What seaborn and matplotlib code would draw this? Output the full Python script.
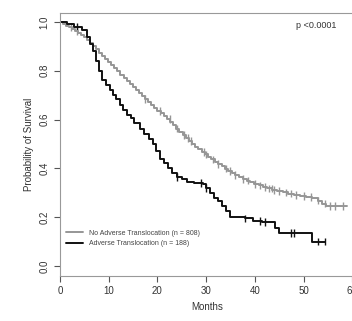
import numpy as np
import pandas as pd
import matplotlib
matplotlib.use("Agg")
import matplotlib.pyplot as plt
import seaborn as sns

# Kaplan-Meier steps (months, survival)
no_adv_t = [0, 0.6, 1.2, 1.9, 2.5, 3.1, 3.8, 4.4, 5.0, 5.6, 6.2, 6.8, 7.4, 8.0, 8.7,
            9.3, 9.9, 10.5, 11.2, 11.8, 12.4, 13.1, 13.7, 14.3, 15.0, 15.6, 16.2, 16.9,
            17.5, 18.1, 18.8, 19.4, 20.0, 20.7, 21.3, 22.0, 22.6, 23.2, 23.9, 24.5,
            25.2, 25.8, 26.5, 27.1, 27.8, 28.4, 29.1, 29.8, 30.4, 31.1, 31.8, 32.5,
            33.2, 33.9, 34.6, 35.3, 36.0, 36.8, 37.5, 38.3, 39.1, 39.9, 40.8, 41.7,
            42.6, 43.6, 44.6, 45.7, 46.8, 48.0, 49.3, 50.6, 51.8, 52.9, 53.8, 54.6, 59]
no_adv_s = [1.0, 0.993, 0.985, 0.978, 0.97, 0.963, 0.955, 0.946, 0.937, 0.926, 0.914,
            0.901, 0.888, 0.874, 0.861, 0.849, 0.836, 0.823, 0.81, 0.797, 0.784, 0.772,
            0.759, 0.747, 0.734, 0.721, 0.709, 0.696, 0.684, 0.671, 0.659, 0.647, 0.636,
            0.625, 0.614, 0.602, 0.589, 0.576, 0.563, 0.55, 0.537, 0.524, 0.512, 0.5,
            0.489, 0.478, 0.467, 0.457, 0.447, 0.437, 0.427, 0.417, 0.408, 0.399, 0.39,
            0.381, 0.373, 0.365, 0.357, 0.35, 0.343, 0.336, 0.33, 0.324, 0.318, 0.312,
            0.307, 0.302, 0.297, 0.292, 0.287, 0.282, 0.277, 0.268, 0.256, 0.245, 0.245]

adv_t = [0, 1.5, 3, 4.5, 5.5, 6.2, 6.8, 7.4, 8.0, 8.6, 9.5, 10.3, 11, 11.6, 12.3, 13,
         13.7, 14.5, 15.3, 16.4, 17.3, 18.2, 19.2, 19.8, 20.5, 21.3, 22.1, 23, 24, 25,
         26, 27.5, 29.3, 30, 30.8, 31.6, 32.5, 33.3, 34, 34.9, 38, 39.7, 41.5, 44.2,
         44.9, 51.7, 54.5]
adv_s = [1.0, 0.99, 0.98, 0.965, 0.94, 0.91, 0.88, 0.84, 0.80, 0.76, 0.74, 0.72, 0.70,
         0.685, 0.66, 0.64, 0.62, 0.605, 0.585, 0.56, 0.54, 0.52, 0.50, 0.47, 0.44, 0.42,
         0.40, 0.38, 0.365, 0.355, 0.345, 0.34, 0.335, 0.32, 0.30, 0.28, 0.265, 0.245,
         0.225, 0.20, 0.195, 0.185, 0.18, 0.155, 0.135, 0.10, 0.10]

# censoring marks
no_adv_cens = [2.2, 3.5, 17.5, 20.5, 22.5, 24, 25.5, 26.2, 27, 29.5, 30, 31.5, 32.5,
               34, 35, 36, 37.5, 38.5, 40, 41, 42, 43, 43.5, 44, 45, 46.5, 47.5, 48.5,
               50, 51.5, 53, 54.5, 55.5, 56.5, 58]
adv_cens = [3.5, 24, 29, 30, 38, 41, 42, 47.5, 48, 53, 54.5]

labels = ["No Adverse Translocation (n = 808)", "Adverse Translocation (n = 188)"]
colors = ["#969696", "#111111"]


def step_value(t, s, x):
    i = np.searchsorted(t, x, side="right") - 1
    return np.asarray(s)[i]


df = pd.concat([
    pd.DataFrame({"t": no_adv_t, "s": no_adv_s, "grp": labels[0]}),
    pd.DataFrame({"t": adv_t, "s": adv_s, "grp": labels[1]}),
])
cens = pd.concat([
    pd.DataFrame({"t": no_adv_cens, "s": step_value(no_adv_t, no_adv_s, no_adv_cens), "grp": labels[0]}),
    pd.DataFrame({"t": adv_cens, "s": step_value(adv_t, adv_s, adv_cens), "grp": labels[1]}),
])

sns.set_style("ticks")
plt.rcParams["font.family"] = ["Liberation Sans", "DejaVu Sans"]

fig = plt.figure(figsize=(3.52, 3.21), dpi=100)
ax = fig.add_axes([0.170, 0.140, 0.835, 0.82])

sns.lineplot(data=df, x="t", y="s", hue="grp", palette=colors, drawstyle="steps-post",
             linewidth=1.4, ax=ax, estimator=None, sort=False)
sns.scatterplot(data=cens, x="t", y="s", hue="grp", palette=colors, marker="|", s=30,
                linewidth=1.0, ax=ax, legend=False)

ax.set_xlim(0, 60.3)
ax.set_ylim(-0.041, 1.037)
ax.set_xticks([0, 10, 20, 30, 40, 50, 60])
ax.set_yticks([0.0, 0.2, 0.4, 0.6, 0.8, 1.0])
ax.set_yticklabels(["0.0", "0.2", "0.4", "0.6", "0.8", "1.0"], rotation=90, va="center")
ax.tick_params(labelsize=7, length=4, width=0.8, colors="#555555", labelcolor="#333333")
ax.set_xlabel("Months", fontsize=7, color="#333333")
ax.set_ylabel("Probability of Survival", fontsize=7, color="#333333")
for sp in ax.spines.values():
    sp.set_color("#999999")
    sp.set_linewidth(0.8)

ax.text(0.94, 0.97, "p <0.0001", transform=ax.transAxes, ha="right", va="top",
        fontsize=6.5, color="#333333")

leg = ax.legend(loc="lower left", bbox_to_anchor=(0.0, 0.085), frameon=False,
                fontsize=5, handlelength=2.5, labelspacing=0.55, title=None)
for txt in leg.get_texts():
    txt.set_color("#444444")

fig.savefig("out.png", dpi=100)
